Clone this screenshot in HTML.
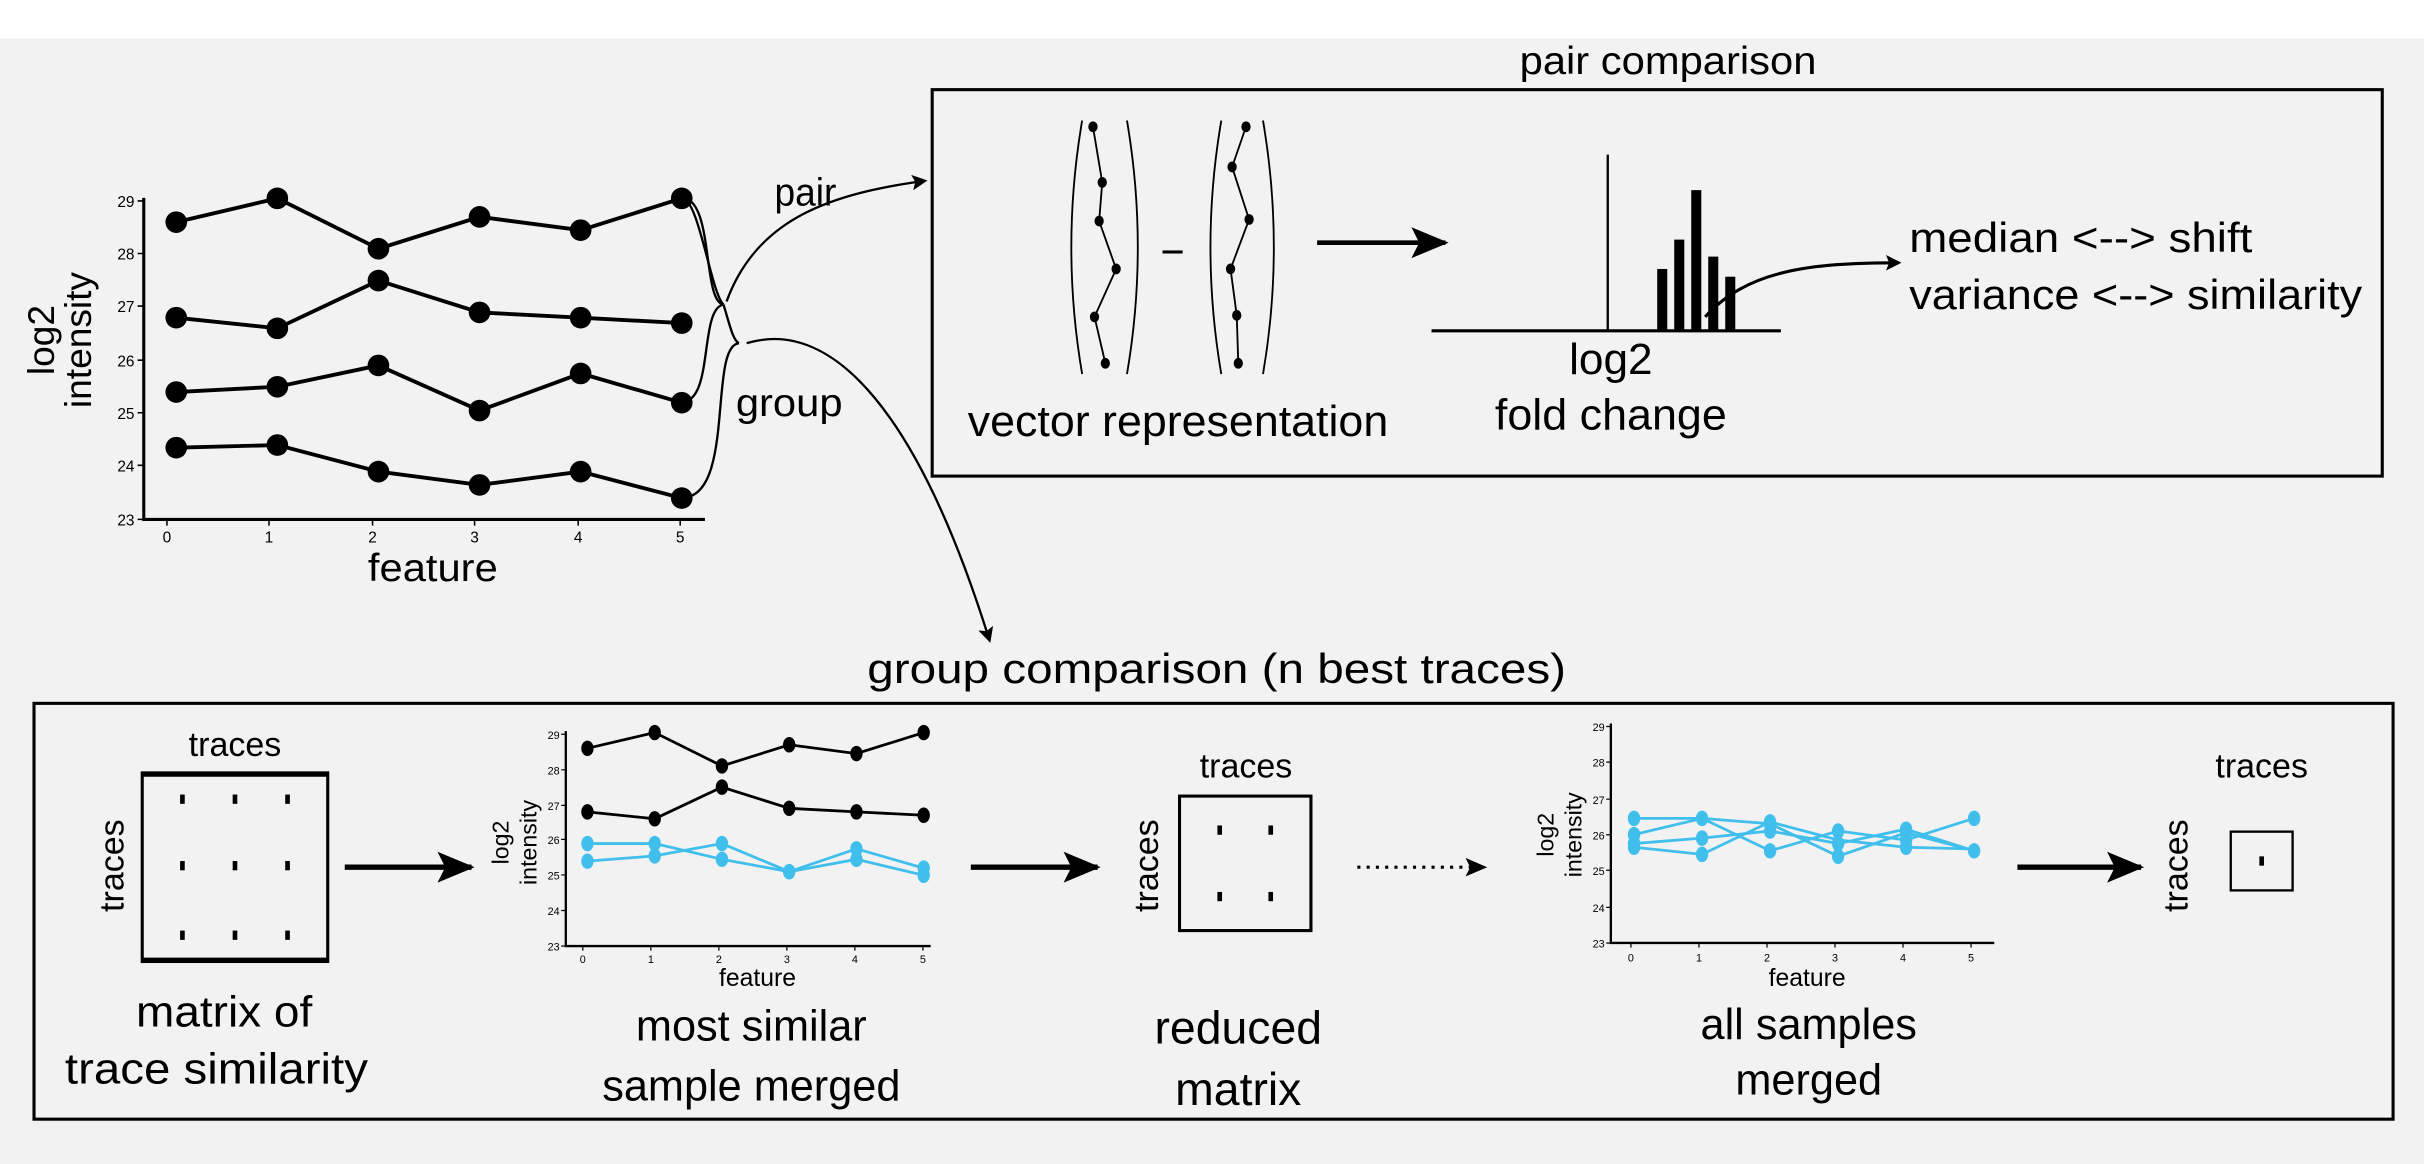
<!DOCTYPE html>
<html><head><meta charset="utf-8"><style>
html,body{margin:0;padding:0;background:#f2f2f2}
svg{display:block}
text{font-family:"Liberation Sans Narrow","Liberation Sans",sans-serif;fill:#000}
.w{font-family:"Liberation Sans",sans-serif}
</style></head><body>
<svg width="2424" height="1164" viewBox="0 0 1568 753" preserveAspectRatio="none" xmlns="http://www.w3.org/2000/svg">
<defs>
<marker id="ah" markerWidth="10" markerHeight="10" refX="8" refY="5" orient="auto" markerUnits="userSpaceOnUse"><path d="M0,0 L10,5 L0,10 L2,5 Z" fill="#000"/></marker>
<marker id="big" markerWidth="24" markerHeight="20" refX="22" refY="10" orient="auto" markerUnits="userSpaceOnUse"><path d="M0,0 L24,10 L0,20 L5,10 Z" fill="#000"/></marker>
</defs>
<rect x="0" y="0" width="1568" height="25" fill="#fff"/>
<rect x="0" y="25" width="1568" height="728" fill="#f2f2f2"/>

<!-- main plot -->
<g stroke="#000" stroke-width="2" fill="none">
<path d="M93,128 V336 H456"/>
<path d="M89,130h4M89,164h4M89,198h4M89,233h4M89,267h4M89,301h4M89,336h4M108,336v4M174,336v4M241,336v4M307,336v4M374,336v4M440,336v4" stroke-width="1"/>
</g>
<g font-size="10" text-anchor="end">
<text x="87" y="134">29</text><text x="87" y="168">28</text><text x="87" y="202">27</text><text x="87" y="237">26</text><text x="87" y="271">25</text><text x="87" y="305">24</text><text x="87" y="340">23</text>
</g>
<g font-size="10" text-anchor="middle">
<text x="108" y="351">0</text><text x="174" y="351">1</text><text x="241" y="351">2</text><text x="307" y="351">3</text><text x="374" y="351">4</text><text x="440" y="351">5</text>
</g>
<text x="238" y="376" font-size="25" textLength="84" lengthAdjust="spacingAndGlyphs">feature</text>
<text class="w" transform="translate(35,220) rotate(-90)" font-size="24" text-anchor="middle">log2</text>
<text class="w" transform="translate(59,220) rotate(-90)" font-size="24" text-anchor="middle">intensity</text>
<g stroke="#000" stroke-width="2.5" fill="none">
<polyline points="114,143.7 179.4,128.3 244.8,160.9 310.2,140.3 375.6,148.9 441,128.3"/>
<polyline points="114,205.5 179.4,212.4 244.8,181.5 310.2,202.1 375.6,205.5 441,209"/>
<polyline points="114,253.6 179.4,250.2 244.8,236.4 310.2,265.6 375.6,241.6 441,260.5"/>
<polyline points="114,289.6 179.4,287.9 244.8,305.1 310.2,313.7 375.6,305.1 441,322.2"/>
</g>
<g fill="#000">
<circle cx="114" cy="143.7" r="7"/><circle cx="179.4" cy="128.3" r="7"/><circle cx="244.8" cy="160.9" r="7"/><circle cx="310.2" cy="140.3" r="7"/><circle cx="375.6" cy="148.9" r="7"/><circle cx="441" cy="128.3" r="7"/>
<circle cx="114" cy="205.5" r="7"/><circle cx="179.4" cy="212.4" r="7"/><circle cx="244.8" cy="181.5" r="7"/><circle cx="310.2" cy="202.1" r="7"/><circle cx="375.6" cy="205.5" r="7"/><circle cx="441" cy="209" r="7"/>
<circle cx="114" cy="253.6" r="7"/><circle cx="179.4" cy="250.2" r="7"/><circle cx="244.8" cy="236.4" r="7"/><circle cx="310.2" cy="265.6" r="7"/><circle cx="375.6" cy="241.6" r="7"/><circle cx="441" cy="260.5" r="7"/>
<circle cx="114" cy="289.6" r="7"/><circle cx="179.4" cy="287.9" r="7"/><circle cx="244.8" cy="305.1" r="7"/><circle cx="310.2" cy="313.7" r="7"/><circle cx="375.6" cy="305.1" r="7"/><circle cx="441" cy="322.2" r="7"/>
</g>
<!-- braces -->
<g stroke="#000" stroke-width="1.5" fill="none">
<path d="M441,128 C462,128 454,195 468,197"/>
<path d="M441,128 C452,128 460,190 468,197"/>
<path d="M441,260 C462,260 452,200 468,197"/>
<path d="M441,322 C476,322 458,224 478,222"/>
<path d="M468,197 C472,210 474,220 478,222"/>
<path d="M470,195 C490,140 540,125 598,117" marker-end="url(#ah)"/>
<path d="M483,222 C540,205 595,270 640,414" marker-end="url(#ah)"/>
</g>
<text x="501" y="133" font-size="25" textLength="40" lengthAdjust="spacingAndGlyphs">pair</text>
<text x="476" y="269" font-size="25" textLength="69" lengthAdjust="spacingAndGlyphs">group</text>

<!-- pair comparison -->
<text class="w" x="983" y="48" font-size="25" textLength="192" lengthAdjust="spacingAndGlyphs">pair comparison</text>
<rect x="603" y="58" width="938" height="250" fill="none" stroke="#000" stroke-width="2"/>
<g stroke="#000" stroke-width="1.2" fill="none">
<path d="M700,78 Q686,160 700,242"/><path d="M729,78 Q743,160 729,242"/>
<path d="M790,78 Q776,160 790,242"/><path d="M817,78 Q831,160 817,242"/>
<polyline points="707,82 713,118 711,143 722,174 708,205 715,235"/>
<polyline points="806,82 797,108 808,142 796,174 800,204 801,235"/>
</g>
<g fill="#000">
<ellipse cx="707" cy="82" rx="3" ry="3.5"/><ellipse cx="713" cy="118" rx="3" ry="3.5"/><ellipse cx="711" cy="143" rx="3" ry="3.5"/><ellipse cx="722" cy="174" rx="3" ry="3.5"/><ellipse cx="708" cy="205" rx="3" ry="3.5"/><ellipse cx="715" cy="235" rx="3" ry="3.5"/>
<ellipse cx="806" cy="82" rx="3" ry="3.5"/><ellipse cx="797" cy="108" rx="3" ry="3.5"/><ellipse cx="808" cy="142" rx="3" ry="3.5"/><ellipse cx="796" cy="174" rx="3" ry="3.5"/><ellipse cx="800" cy="204" rx="3" ry="3.5"/><ellipse cx="801" cy="235" rx="3" ry="3.5"/>
<rect x="752" y="162" width="13" height="2"/>
</g>
<text x="626" y="282" font-size="28" textLength="272" lengthAdjust="spacingAndGlyphs">vector representation</text>
<path d="M852,157 H935" stroke="#000" stroke-width="3" marker-end="url(#big)"/>
<g stroke="#000" fill="none">
<path d="M1040,100 V214" stroke-width="1.5"/>
<path d="M926,214 H1152" stroke-width="2"/>
</g>
<g fill="#000">
<rect x="1072" y="174" width="6.5" height="40"/>
<rect x="1083" y="155" width="6.5" height="59"/>
<rect x="1094" y="123" width="6.5" height="91"/>
<rect x="1105" y="166" width="6.5" height="48"/>
<rect x="1116" y="179" width="6.5" height="35"/>
</g>
<path d="M1103,205 C1130,175 1170,170 1228,170" stroke="#000" stroke-width="2" fill="none" marker-end="url(#ah)"/>
<text x="1015" y="242" font-size="28" textLength="54" lengthAdjust="spacingAndGlyphs">log2</text>
<text x="967" y="278" font-size="28" textLength="150" lengthAdjust="spacingAndGlyphs">fold change</text>
<text class="w" x="1235" y="163" font-size="27" textLength="222" lengthAdjust="spacingAndGlyphs">median &lt;--&gt; shift</text>
<text class="w" x="1235" y="200" font-size="27" textLength="293" lengthAdjust="spacingAndGlyphs">variance &lt;--&gt; similarity</text>

<!-- group comparison -->
<text class="w" x="561" y="442" font-size="27" textLength="452" lengthAdjust="spacingAndGlyphs">group comparison (n best traces)</text>
<rect x="22" y="455" width="1526" height="269" fill="none" stroke="#000" stroke-width="2"/>

<!-- matrix -->
<text x="152" y="489" font-size="22" text-anchor="middle">traces</text>
<text class="w" transform="translate(80,560) rotate(-90)" font-size="22" text-anchor="middle">traces</text>
<rect x="92" y="500" width="120" height="122" fill="none" stroke="#000" stroke-width="2"/>
<path d="M92,501H212M92,621H212" stroke="#000" stroke-width="3"/>
<g fill="#000">
<rect x="116.5" y="514" width="3" height="6"/><rect x="150.5" y="514" width="3" height="6"/><rect x="184.5" y="514" width="3" height="6"/>
<rect x="116.5" y="557" width="3" height="6"/><rect x="150.5" y="557" width="3" height="6"/><rect x="184.5" y="557" width="3" height="6"/>
<rect x="116.5" y="602" width="3" height="6"/><rect x="150.5" y="602" width="3" height="6"/><rect x="184.5" y="602" width="3" height="6"/>
</g>
<text x="88" y="664" font-size="28" textLength="114" lengthAdjust="spacingAndGlyphs">matrix of</text>
<text x="42" y="701" font-size="28" textLength="196" lengthAdjust="spacingAndGlyphs">trace similarity</text>
<path d="M223,561 H305" stroke="#000" stroke-width="3.5" marker-end="url(#big)"/>

<!-- plot 2 -->
<g stroke="#000" fill="none">
<path d="M366,473 V612 H602" stroke-width="1.5"/>
<path d="M363,475h3M363,498h3M363,521h3M363,543h3M363,566h3M363,589h3M363,612h3M377,612v3M421,612v3M465,612v3M509,612v3M553,612v3M597,612v3" stroke-width="0.8"/>
</g>
<g font-size="7" text-anchor="end">
<text x="362" y="478">29</text><text x="362" y="501">28</text><text x="362" y="524">27</text><text x="362" y="546">26</text><text x="362" y="569">25</text><text x="362" y="592">24</text><text x="362" y="615">23</text>
</g>
<g font-size="7" text-anchor="middle">
<text x="377" y="623">0</text><text x="421" y="623">1</text><text x="465" y="623">2</text><text x="509" y="623">3</text><text x="553" y="623">4</text><text x="597" y="623">5</text>
</g>
<text x="490" y="638" font-size="16" text-anchor="middle">feature</text>
<text class="w" transform="translate(329,545) rotate(-90)" font-size="15" text-anchor="middle">log2</text>
<text class="w" transform="translate(347,545) rotate(-90)" font-size="15" text-anchor="middle">intensity</text>
<g stroke="#000" stroke-width="1.8" fill="none">
<polyline points="380,484.1 423.5,473.9 467,495.5 510.5,481.8 554,487.5 597.5,473.9"/>
<polyline points="380,525.2 423.5,529.7 467,509.2 510.5,522.9 554,525.2 597.5,527.4"/>
</g>
<g stroke="#41bfec" stroke-width="1.8" fill="none">
<polyline points="380,545.7 423.5,545.7 467,555.9 510.5,563.9 554,555.9 597.5,566.2"/>
<polyline points="380,557.1 423.5,553.7 467,545.7 510.5,563.9 554,549.1 597.5,561.6"/>
</g>
<g fill="#000">
<ellipse cx="380" cy="484.1" rx="4" ry="5"/><ellipse cx="423.5" cy="473.9" rx="4" ry="5"/><ellipse cx="467" cy="495.5" rx="4" ry="5"/><ellipse cx="510.5" cy="481.8" rx="4" ry="5"/><ellipse cx="554" cy="487.5" rx="4" ry="5"/><ellipse cx="597.5" cy="473.9" rx="4" ry="5"/>
<ellipse cx="380" cy="525.2" rx="4" ry="5"/><ellipse cx="423.5" cy="529.7" rx="4" ry="5"/><ellipse cx="467" cy="509.2" rx="4" ry="5"/><ellipse cx="510.5" cy="522.9" rx="4" ry="5"/><ellipse cx="554" cy="525.2" rx="4" ry="5"/><ellipse cx="597.5" cy="527.4" rx="4" ry="5"/>
</g>
<g fill="#41bfec">
<ellipse cx="380" cy="545.7" rx="4" ry="5"/><ellipse cx="423.5" cy="545.7" rx="4" ry="5"/><ellipse cx="467" cy="555.9" rx="4" ry="5"/><ellipse cx="510.5" cy="563.9" rx="4" ry="5"/><ellipse cx="554" cy="555.9" rx="4" ry="5"/><ellipse cx="597.5" cy="566.2" rx="4" ry="5"/>
<ellipse cx="380" cy="557.1" rx="4" ry="5"/><ellipse cx="423.5" cy="553.7" rx="4" ry="5"/><ellipse cx="467" cy="545.7" rx="4" ry="5"/><ellipse cx="510.5" cy="563.9" rx="4" ry="5"/><ellipse cx="554" cy="549.1" rx="4" ry="5"/><ellipse cx="597.5" cy="561.6" rx="4" ry="5"/>
</g>
<text x="486" y="673" font-size="28" text-anchor="middle">most similar</text>
<text x="486" y="712" font-size="28" text-anchor="middle">sample merged</text>
<path d="M628,561 H710" stroke="#000" stroke-width="3.5" marker-end="url(#big)"/>

<!-- reduced -->
<text x="806" y="503" font-size="22" text-anchor="middle">traces</text>
<text class="w" transform="translate(749,560) rotate(-90)" font-size="22" text-anchor="middle">traces</text>
<rect x="763" y="515" width="85" height="87" fill="none" stroke="#000" stroke-width="2"/>
<g fill="#000">
<rect x="787.5" y="534" width="3" height="6"/><rect x="820.5" y="534" width="3" height="6"/>
<rect x="787.5" y="577" width="3" height="6"/><rect x="820.5" y="577" width="3" height="6"/>
</g>
<text x="801" y="675" font-size="30" text-anchor="middle">reduced</text>
<text x="801" y="715" font-size="30" text-anchor="middle">matrix</text>
<path d="M878,561 H958" stroke="#000" stroke-width="2" stroke-dasharray="2,4" fill="none"/>
<path d="M948,555 L962,561 L948,567 L951,561 Z" fill="#000"/>

<!-- plot 3 -->
<g stroke="#000" fill="none">
<path d="M1042,468 V610 H1290" stroke-width="1.5"/>
<path d="M1039,470h3M1039,493h3M1039,517h3M1039,540h3M1039,563h3M1039,587h3M1039,610h3M1055,610v3M1099,610v3M1143,610v3M1187,610v3M1231,610v3M1275,610v3" stroke-width="0.8"/>
</g>
<g font-size="7" text-anchor="end">
<text x="1038" y="473">29</text><text x="1038" y="496">28</text><text x="1038" y="520">27</text><text x="1038" y="543">26</text><text x="1038" y="566">25</text><text x="1038" y="590">24</text><text x="1038" y="613">23</text>
</g>
<g font-size="7" text-anchor="middle">
<text x="1055" y="622">0</text><text x="1099" y="622">1</text><text x="1143" y="622">2</text><text x="1187" y="622">3</text><text x="1231" y="622">4</text><text x="1275" y="622">5</text>
</g>
<text x="1169" y="638" font-size="16" text-anchor="middle">feature</text>
<text class="w" transform="translate(1005,540) rotate(-90)" font-size="15" text-anchor="middle">log2</text>
<text class="w" transform="translate(1023,540) rotate(-90)" font-size="15" text-anchor="middle">intensity</text>
<g stroke="#41bfec" stroke-width="1.8" fill="none">
<polyline points="1057,529.4 1101,529.4 1145,550.4 1189,537.6 1233,543.4 1277,529.4"/>
<polyline points="1057,539.9 1101,529.4 1145,532.9 1189,553.9 1233,538.7 1277,550.4"/>
<polyline points="1057,545.7 1101,542.2 1145,537.6 1189,545.7 1233,536.4 1277,550.4"/>
<polyline points="1057,548.1 1101,552.7 1145,531.7 1189,543.4 1233,548.1 1277,549.2"/>
</g>
<g fill="#41bfec">
<ellipse cx="1057" cy="529.4" rx="4" ry="5"/><ellipse cx="1101" cy="529.4" rx="4" ry="5"/><ellipse cx="1145" cy="550.4" rx="4" ry="5"/><ellipse cx="1189" cy="537.6" rx="4" ry="5"/><ellipse cx="1233" cy="543.4" rx="4" ry="5"/><ellipse cx="1277" cy="529.4" rx="4" ry="5"/>
<ellipse cx="1057" cy="539.9" rx="4" ry="5"/><ellipse cx="1145" cy="532.9" rx="4" ry="5"/><ellipse cx="1189" cy="553.9" rx="4" ry="5"/><ellipse cx="1233" cy="538.7" rx="4" ry="5"/><ellipse cx="1277" cy="550.4" rx="4" ry="5"/>
<ellipse cx="1057" cy="545.7" rx="4" ry="5"/><ellipse cx="1101" cy="542.2" rx="4" ry="5"/><ellipse cx="1145" cy="537.6" rx="4" ry="5"/><ellipse cx="1189" cy="545.7" rx="4" ry="5"/><ellipse cx="1233" cy="536.4" rx="4" ry="5"/>
<ellipse cx="1057" cy="548.1" rx="4" ry="5"/><ellipse cx="1101" cy="552.7" rx="4" ry="5"/><ellipse cx="1145" cy="531.7" rx="4" ry="5"/><ellipse cx="1233" cy="548.1" rx="4" ry="5"/>
</g>
<text x="1170" y="672" font-size="28" text-anchor="middle">all samples</text>
<text x="1170" y="708" font-size="28" text-anchor="middle">merged</text>
<path d="M1305,561 H1385" stroke="#000" stroke-width="3.5" marker-end="url(#big)"/>

<!-- final -->
<text x="1463" y="503" font-size="22" text-anchor="middle">traces</text>
<text class="w" transform="translate(1415,560) rotate(-90)" font-size="22" text-anchor="middle">traces</text>
<rect x="1443" y="538" width="40" height="38" fill="none" stroke="#000" stroke-width="1.5"/>
<rect x="1461.5" y="554" width="3" height="6" fill="#000"/>
</svg>
</body></html>
